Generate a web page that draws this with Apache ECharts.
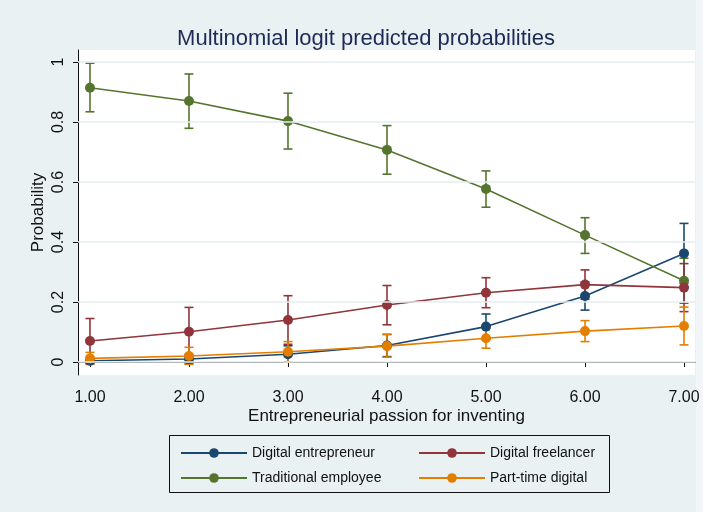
<!DOCTYPE html>
<html>
<head>
<meta charset="utf-8">
<script src="https://cdn.jsdelivr.net/npm/echarts@6/dist/echarts.min.js"></script>
<style>
  html, body { margin: 0; padding: 0; background: #EAF1F3; }
  #chart { width: 703px; height: 512px; }
</style>
</head>
<body>
<div id="chart"></div>
<script>
// passion scores on x
const xValues = [1, 2, 3, 4, 5, 6, 7]
const xTicks = [1, 2, 3, 4, 5, 6, 7]
const yTicks = [0, 0.2, 0.4, 0.6, 0.8, 1]

// predicted probabilities and 95% CI
const entrepreneur = [0.004, 0.01, 0.026, 0.055, 0.118, 0.22, 0.362]
const entrepreneurLo = [-0.004, -0.005, 0.0, 0.018, 0.076, 0.173, 0.262]
const entrepreneurHi = [0.012, 0.025, 0.054, 0.092, 0.16, 0.267, 0.462]

const freelancer = [0.07, 0.101, 0.14, 0.19, 0.231, 0.258, 0.248]
const freelancerLo = [-0.005, 0.02, 0.059, 0.124, 0.181, 0.209, 0.168]
const freelancerHi = [0.145, 0.182, 0.221, 0.255, 0.281, 0.307, 0.328]

const employee = [0.914, 0.87, 0.803, 0.707, 0.577, 0.423, 0.271]
const employeeLo = [0.834, 0.779, 0.71, 0.626, 0.516, 0.362, 0.196]
const employeeHi = [0.996, 0.96, 0.896, 0.788, 0.637, 0.481, 0.346]

const partTime = [0.012, 0.02, 0.034, 0.053, 0.079, 0.103, 0.12]
const partTimeLo = [-0.008, -0.008, 0.0, 0.016, 0.046, 0.068, 0.057]
const partTimeHi = [0.032, 0.049, 0.068, 0.092, 0.112, 0.138, 0.183]

const groups = [
  { name: 'Digital entrepreneur', color: '#1A476F', est: entrepreneur, lo: entrepreneurLo, hi: entrepreneurHi },
  { name: 'Traditional employee', color: '#55752F', est: employee, lo: employeeLo, hi: employeeHi },
  { name: 'Digital freelancer', color: '#90353B', est: freelancer, lo: freelancerLo, hi: freelancerHi },
  { name: 'Part-time digital', color: '#E37E00', est: partTime, lo: partTimeLo, hi: partTimeHi }
]

const font = 'Liberation Sans, Arial, sans-serif'

function errorBars(g) {
  return {
    type: 'custom',
    z: 2,
    silent: true,
    data: xValues.map((x, i) => [x, g.lo[i], g.hi[i]]),
    renderItem(params, api) {
      const lo = api.coord([api.value(0), api.value(1)])
      const hi = api.coord([api.value(0), api.value(2)])
      const w = 4.5
      const style = { stroke: g.color, lineWidth: 1.6 }
      return {
        type: 'group',
        children: [
          { type: 'line', shape: { x1: lo[0], y1: lo[1], x2: hi[0], y2: hi[1] }, style },
          { type: 'line', shape: { x1: lo[0] - w, y1: lo[1], x2: lo[0] + w, y2: lo[1] }, style },
          { type: 'line', shape: { x1: hi[0] - w, y1: hi[1], x2: hi[0] + w, y2: hi[1] }, style }
        ]
      }
    }
  }
}

function lineSeries(g) {
  return {
    name: g.name,
    type: 'line',
    z: 3,
    data: xValues.map((x, i) => [x, g.est[i]]),
    symbol: 'circle',
    symbolSize: 10,
    showSymbol: true,
    color: g.color,
    lineStyle: { width: 1.6, color: g.color },
    itemStyle: { color: g.color }
  }
}

const legendCommon = {
  orient: 'vertical',
  top: 441,
  itemWidth: 66,
  itemHeight: 12,
  itemGap: 11,
  selectedMode: false,
  textStyle: { fontSize: 14, color: '#111', fontFamily: font }
}

const chart = echarts.init(document.getElementById('chart'))
chart.setOption({
  backgroundColor: '#EAF1F3',
  animation: false,
  title: {
    text: 'Multinomial logit predicted probabilities',
    left: 361,
    textAlign: 'center',
    top: 23,
    textStyle: { fontSize: 22, fontWeight: 'normal', color: '#1D2A56', fontFamily: font }
  },
  legend: [
    Object.assign({}, legendCommon, { left: 175, data: ['Digital entrepreneur', 'Traditional employee'] }),
    Object.assign({}, legendCommon, { left: 413, data: ['Digital freelancer', 'Part-time digital'] })
  ],
  graphic: [
    {
      type: 'rect',
      left: 696, top: 0,
      shape: { width: 7, height: 512 },
      style: { fill: '#F3F6F8' },
      silent: true
    },
    {
      type: 'rect',
      left: 167, top: 433,
      shape: { width: 440, height: 57 },
      style: { fill: 'none', stroke: '#111', lineWidth: 1 },
      silent: true
    }
  ],
  grid: {
    left: 78,
    top: 50,
    width: 617,
    height: 325,
    show: true,
    backgroundColor: '#fff',
    borderWidth: 0
  },
  xAxis: {
    type: 'value',
    min: 0.879,
    max: 7.111,
    name: 'Entrepreneurial passion for inventing',
    nameLocation: 'middle',
    nameGap: 33,
    nameMoveOverlap: false,
    nameTextStyle: { fontSize: 17, color: '#111', fontFamily: font },
    axisLine: { show: true, lineStyle: { color: '#111', width: 1 } },
    axisTick: { show: true, length: 5, customValues: xTicks, lineStyle: { color: '#111' } },
    axisLabel: {
      customValues: xTicks,
      margin: 15,
      fontSize: 16,
      color: '#111',
      fontFamily: font,
      formatter: v => v.toFixed(2)
    },
    splitLine: { show: false }
  },
  yAxis: {
    type: 'value',
    min: -0.0433,
    max: 1.04,
    name: 'Probability',
    nameLocation: 'middle',
    nameGap: 31,
    nameMoveOverlap: false,
    nameTextStyle: { fontSize: 17, color: '#111', fontFamily: font },
    axisLine: { show: true, lineStyle: { color: '#111', width: 1 } },
    axisTick: { show: true, length: 5, customValues: yTicks, lineStyle: { color: '#111' } },
    axisLabel: {
      customValues: yTicks,
      rotate: 90,
      margin: 11,
      fontSize: 16,
      color: '#111',
      fontFamily: font,
      formatter: v => (v === 0 || v === 1) ? String(v) : v.toFixed(1)
    },
    splitLine: { show: false }
  },
  series: [
    {
      type: 'line',
      data: [],
      z: 1,
      silent: true,
      markLine: {
        silent: true,
        symbol: 'none',
        label: { show: false },
        lineStyle: { color: '#E6EEF1', width: 1.5, type: 'solid' },
        data: yTicks.map(v => ({ yAxis: v }))
      }
    }
  ]
    .concat(groups.map(errorBars))
    .concat(groups.map(lineSeries))
})
</script>
</body>
</html>
